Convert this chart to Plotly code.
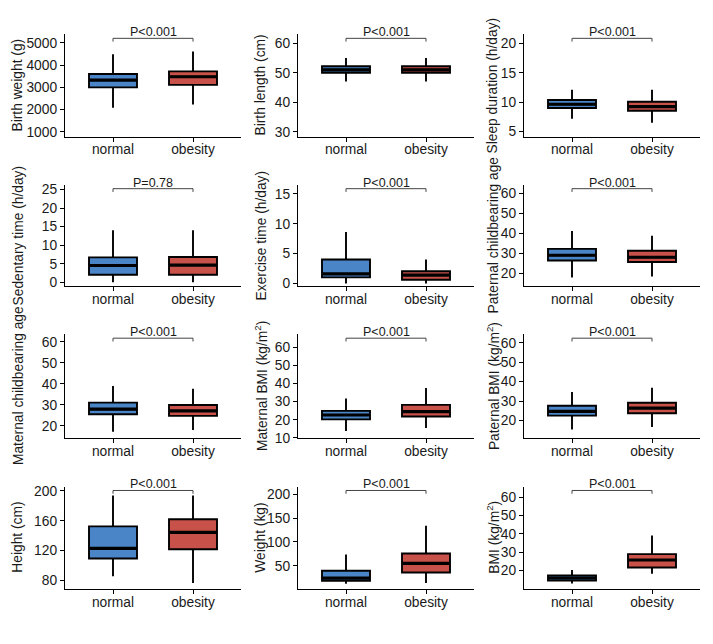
import plotly.graph_objects as go

groups = ["normal", "obesity"]
titles = ["Birth weight (g)", "Birth length (cm)", "Sleep duration (h/day)",
          "Sedentary time (h/day)", "Exercise time (h/day)", "Paternal childbearing age",
          "Maternal childbearing age", "Maternal BMI (kg/m<sup>2</sup>)", "Paternal BMI (kg/m<sup>2</sup>)",
          "Height (cm)", "Weight (kg)", "BMI (kg/m<sup>2</sup>)"]
pvals = ["P<0.001", "P<0.001", "P<0.001", "P=0.78", "P<0.001", "P<0.001",
         "P<0.001", "P<0.001", "P<0.001", "P<0.001", "P<0.001", "P<0.001"]

# [normal, obesity] statistics per panel
lower = [[2080, 2230], [47, 47], [7.15, 6.5], [0, 0], [0, 0], [17.9, 18.4],
         [17.2, 18.0], [13.8, 15.4], [15.3, 16.6], [85.3, 76.5], [13.1, 14.5], [12.9, 18.2]]
q1 = [[3000, 3115], [50, 50], [9.0, 8.53], [2.0, 2.0], [1.0, 0.6], [26.5, 25.7],
      [25.5, 24.7], [20.2, 21.8], [22.5, 23.7], [109.3, 121.6], [19.0, 36.4], [14.5, 21.6]]
median = [[3330, 3480], [51, 51], [9.63, 9.24], [4.5, 4.6], [1.6, 1.38], [29.1, 28.1],
          [27.9, 27.1], [22.6, 24.5], [24.7, 26.4], [122.9, 144.4], [24.7, 55.4], [15.9, 25.7]]
q3 = [[3600, 3720], [52.2, 52.2], [10.35, 10.07], [6.7, 6.8], [4.0, 2.04], [32.3, 31.4],
      [31.0, 29.9], [24.9, 28.2], [27.6, 29.1], [152.3, 161.9], [40.0, 75.9], [17.3, 28.9]]
upper = [[4490, 4620], [55, 55], [12.1, 12.1], [14, 14], [8.6, 4.0], [41.3, 38.9],
         [39.0, 37.6], [31.7, 37.6], [34.7, 36.9], [193.8, 193.8], [73.8, 133.7], [20.3, 39.0]]

yticks = [[1000, 2000, 3000, 4000, 5000], [30, 40, 50, 60], [5, 10, 15, 20],
          [0, 5, 10, 15, 20, 25], [0, 5, 10, 15], [20, 30, 40, 50, 60],
          [20, 30, 40, 50, 60], [10, 20, 30, 40, 50, 60], [20, 30, 40, 50, 60],
          [80, 120, 160, 200], [50, 100, 150, 200], [20, 30, 40, 50, 60]]
yranges = [[779, 5385], [28.34, 62.99], [4.12, 21.5], [-1.06, 26.3], [-0.45, 16.5],
           [13.66, 64.4], [14.2, 63.6], [9.9, 67.3], [11.0, 64.4], [68.6, 205.7],
           [2.3, 215.5], [10.0, 65.7]]

colors = ["#4A85C7", "#C8524A"]
W, H = 713, 644
col_px = [(65, 241), (298, 474), (524, 700)]
title_px = [18, 261, 493]
row_px = [(32, 136), (185, 288), (337, 442.5), (492, 596)]
BOXW = 0.6
FS = 13.8

fig = go.Figure()
layout = dict(width=W, height=H, margin=dict(l=0, r=0, t=0, b=0),
              paper_bgcolor="white", plot_bgcolor="white", showlegend=False,
              font=dict(family="Liberation Sans, Arial, sans-serif", size=FS, color="#1a1a1a"))
shapes, annotations = [], []
for i in range(12):
    r, c = divmod(i, 3)
    n = i + 1
    xa = "x" if n == 1 else f"x{n}"
    ya = "y" if n == 1 else f"y{n}"
    for g in range(2):
        fig.add_trace(go.Box(
            x=[g + 1], q1=[q1[i][g]], median=[median[i][g]], q3=[q3[i][g]],
            lowerfence=[lower[i][g]], upperfence=[upper[i][g]],
            width=BOXW, whiskerwidth=0, fillcolor=colors[g],
            line=dict(color="black", width=1.9), boxpoints=False,
            hoverinfo="skip", xaxis=xa, yaxis=ya))
        fig.add_trace(go.Scatter(
            x=[g + 1 - BOXW / 2, g + 1 + BOXW / 2], y=[median[i][g]] * 2,
            mode="lines", line=dict(color="black", width=3.2),
            hoverinfo="skip", xaxis=xa, yaxis=ya))
    x0, x1 = col_px[c]
    y0, y1 = row_px[r]
    axkey = "xaxis" if n == 1 else f"xaxis{n}"
    aykey = "yaxis" if n == 1 else f"yaxis{n}"
    layout[axkey] = dict(domain=[x0 / W, x1 / W], anchor=ya, range=[0.4, 2.6],
                         tickvals=[1, 2], ticktext=groups, showline=True, linecolor="black",
                         linewidth=1.3, ticks="outside", ticklen=4, tickcolor="black",
                         showgrid=False, zeroline=False, fixedrange=True,
                         ticklabelstandoff=-4, tickfont=dict(size=FS))
    layout[aykey] = dict(domain=[1 - y1 / H, 1 - y0 / H], anchor=xa, range=yranges[i],
                         tickvals=yticks[i], showline=True, linecolor="black",
                         linewidth=1.3, ticks="outside", ticklen=4, tickcolor="black",
                         showgrid=False, zeroline=False, fixedrange=True,
                         tickfont=dict(size=FS))
    yd = f"{ya} domain"
    bl = dict(type="line", xref=xa, yref=yd, line=dict(color="#444", width=1))
    shapes.append({**bl, "x0": 1, "x1": 2, "y0": 0.962, "y1": 0.962})
    shapes.append({**bl, "x0": 1, "x1": 1, "y0": 0.93, "y1": 0.962})
    shapes.append({**bl, "x0": 2, "x1": 2, "y0": 0.93, "y1": 0.962})
    annotations.append(dict(x=1.5, y=0.962, xref=xa, yref=yd, text=pvals[i],
                            showarrow=False, yanchor="bottom", yshift=-3,
                            font=dict(size=12.5, color="#1a1a1a")))
    annotations.append(dict(x=title_px[c] / W, y=0.5, xref="paper", yref=yd,
                            text=titles[i], textangle=-90, showarrow=False,
                            xanchor="center", yanchor="middle",
                            font=dict(size=FS, color="#1a1a1a")))
layout["shapes"] = shapes
layout["annotations"] = annotations
fig.update_layout(**layout)
fig.write_html("out.html")
